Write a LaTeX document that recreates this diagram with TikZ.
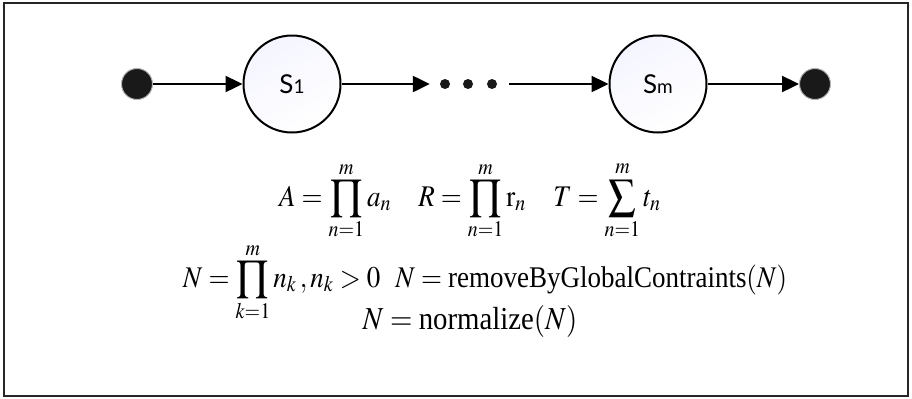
\documentclass[tikz,border=0pt]{standalone}
\usepackage{amsmath}
\usepackage{graphicx}
\usepackage{mathptmx}
\usepackage{fontspec}
\setmainfont{Liberation Serif}
\newfontfamily\statefont{Lato}
\usetikzlibrary{arrows.meta}

% narrow, tall formula text
\newcommand{\narrowmath}[1]{\scalebox{0.9}[1]{$#1$}}

\begin{document}
\begin{tikzpicture}[x=0.5pt, y=-0.5pt, line width=1.2pt,
        state/.style={circle, draw, line width=1pt, minimum size=48.5pt, inner sep=0pt,
            top color=blue!4!white, bottom color=white, shading angle=30,
            font=\statefont\fontsize{13}{14}\selectfont},
        terminal/.style={circle, fill=black!90, draw=black!30, line width=0.5pt, minimum size=15.5pt, inner sep=0pt},
        ellip/.style={circle, fill=black!90, minimum size=5pt, inner sep=0pt},
        flow/.style={-{Triangle[length=8.5pt, width=8pt]}},
        formula/.style={anchor=base, font=\fontsize{15}{17}\selectfont}]
        \useasboundingbox (0,0) rectangle (912,398);

        % Frame
        \draw[line width=1pt, black!85] (4,3) rectangle (908,396);

        % States
        \node[terminal] (start) at (137,84) {};
        \node[state] (s1) at (292,84) {S{\fontsize{9.5}{10}\selectfont 1}};
        \node[ellip] (d1) at (445,84) {};
        \node[ellip] (d2) at (468,84) {};
        \node[ellip] (d3) at (492,84) {};
        \node[state] (sm) at (658,84) {S{\fontsize{9.5}{10}\selectfont m}};
        \node[terminal] (end) at (815,84) {};

        % Transitions
        \draw[flow] (start) -- (s1);
        \draw[flow, shorten >=4.5pt] (s1) -- (d1);
        \draw[flow, shorten <=5.5pt] (d3) -- (sm);
        \draw[flow] (sm) -- (end);

        % Formulas
        \node[formula] (rates) at (470,206) {\narrowmath{A=\displaystyle\prod_{n=1}^{m}a_n \quad R=\prod_{n=1}^{m}\mathrm{r}_n \quad T=\sum_{n=1}^{m}t_n}};
        \node[formula] (count) at (485,287) {\narrowmath{N=\displaystyle\prod_{k=1}^{m}n_k\,,n_k>0 \;\;\, N=\text{removeByGlobalContraints}(N)}};
        \node[formula, font=\fontsize{16}{18}\selectfont] (norm) at (470,329) {\narrowmath{N=\text{normalize}(N)}\hspace{0pt}};
    \end{tikzpicture}
\end{document}
